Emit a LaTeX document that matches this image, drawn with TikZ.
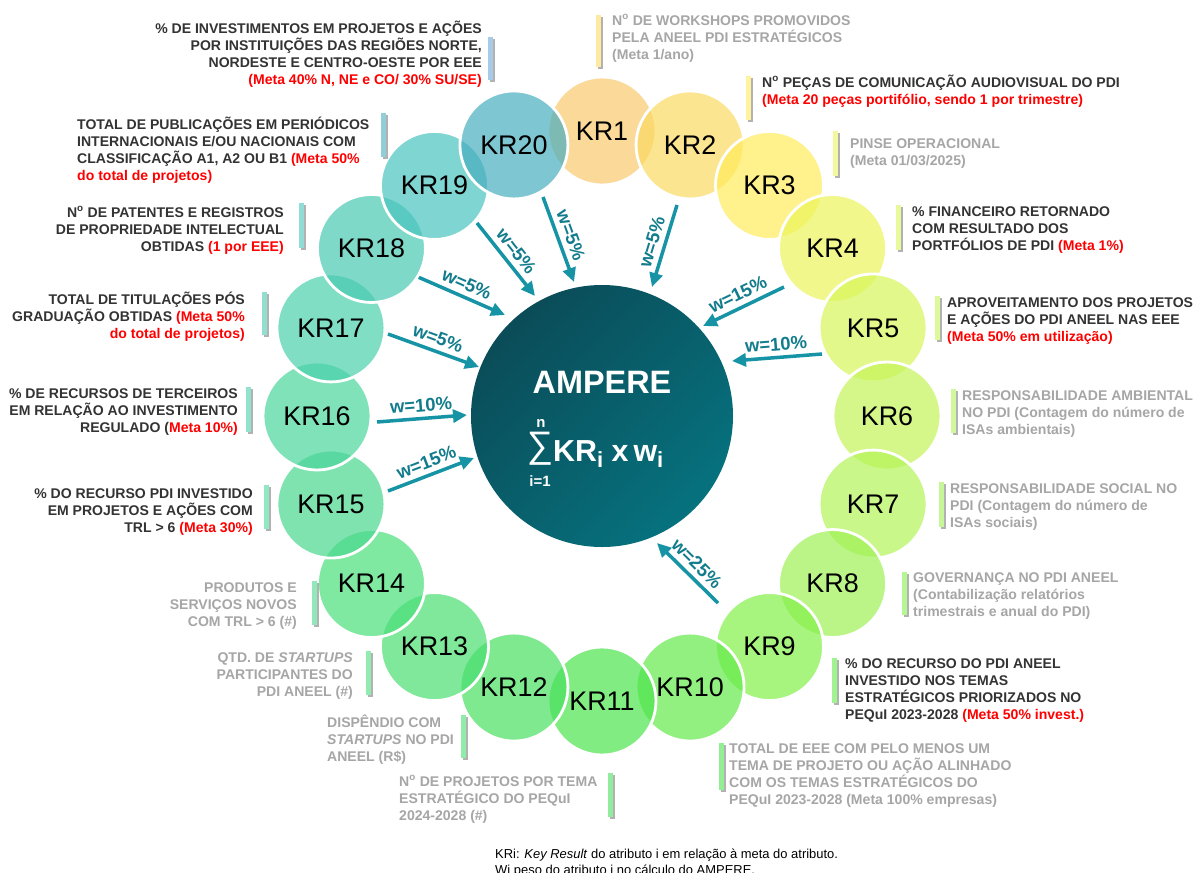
\documentclass[tikz,border=0pt]{standalone}
\usepackage{fontspec}
\setmainfont{Liberation Sans}
\usetikzlibrary{positioning,arrows.meta}

\definecolor{txtdark}{RGB}{51,51,51}
\definecolor{txtgray}{RGB}{166,166,166}
\definecolor{metared}{RGB}{255,0,0}
\definecolor{arrowteal}{RGB}{22,148,165}
\definecolor{labelteal}{RGB}{18,124,140}
\definecolor{ampdark}{RGB}{10,76,88}
\definecolor{amplight}{RGB}{6,114,126}
\definecolor{kr1}{RGB}{248,201,111}
\definecolor{kr2}{RGB}{251,218,98}
\definecolor{kr3}{RGB}{255,236,91}
\definecolor{kr4}{RGB}{236,245,91}
\definecolor{kr5}{RGB}{216,246,91}
\definecolor{kr6}{RGB}{196,245,88}
\definecolor{kr7}{RGB}{179,245,88}
\definecolor{kr8}{RGB}{159,242,85}
\definecolor{kr9}{RGB}{131,241,74}
\definecolor{kr10}{RGB}{99,234,74}
\definecolor{kr11}{RGB}{76,228,76}
\definecolor{kr12}{RGB}{74,224,96}
\definecolor{kr13}{RGB}{74,223,112}
\definecolor{kr14}{RGB}{74,223,122}
\definecolor{kr15}{RGB}{74,216,142}
\definecolor{kr16}{RGB}{74,214,156}
\definecolor{kr17}{RGB}{74,208,171}
\definecolor{kr18}{RGB}{74,201,179}
\definecolor{kr19}{RGB}{74,196,191}
\definecolor{kr20}{RGB}{72,174,191}
\definecolor{kr21}{RGB}{110,170,215}
\newcommand{\meta}[1]{\textcolor{metared}{#1}}
\newcommand{\infofont}{\bfseries\fontsize{14.1}{17.3}\selectfont}
\newcommand{\lowi}{\raisebox{-6bp}{\fontsize{22}{22}\selectfont i}}

\begin{document}
\begin{tikzpicture}[x=1bp,y=-1bp,
    kr/.style={circle,draw=white,line width=2.8bp,fill opacity=0.7,text opacity=1,
      minimum size=108bp,inner sep=0pt,font=\fontsize{27}{27}\selectfont},
    infol/.style={anchor=base west,align=left,inner sep=0pt,font=\infofont},
    infor/.style={anchor=base east,align=right,inner sep=0pt,font=\infofont},
    wt/.style={draw=arrowteal,line width=3.5bp,-{Triangle[length=14bp,width=13bp]}},
    wlab/.style={sloped,above=5bp,inner sep=0pt,text=labelteal,
      font=\bfseries\fontsize{18.5}{18.5}\selectfont}]
    \useasboundingbox (0,0) rectangle (1195,873);
    \fill[white] (0,0) rectangle (1195,873);

    \coordinate (hub) at (602,416);
    \node[circle,minimum size=262bp,inner sep=0pt,top color=ampdark,bottom color=amplight,
      shading angle=45] (ampere) at (hub) {};
    \node[white,anchor=base,inner sep=0pt,font=\bfseries\fontsize{32.5}{32.5}\selectfont]
      (amptitle) at (602,393) {AMPERE};
    \node[white,inner sep=0pt,font=\fontsize{37}{37}\selectfont] (sumsym) at (540,449) {∑};
    \node[white,inner sep=0pt,font=\bfseries\fontsize{15}{15}\selectfont] (sumtop) at (541,423) {n};
    \node[white,inner sep=0pt,font=\bfseries\fontsize{15}{15}\selectfont] (sumbot) at (540,481) {i=1};
    \node[white,anchor=base west,inner sep=0pt,font=\bfseries\fontsize{30.5}{30.5}\selectfont]
      (sumterm) at (553,461) {KR\lowi{} x\,w\lowi};

    \foreach \k/\tx/\ty/\hx/\hy/\w in {2/677/205/652/287/5, 4/784/287/703/326/15,
        5/822/354/732/361/10, 9/718/603/657/543/25, 15/388/491/474/458/15,
        16/377/422/467/415/10, 17/388/334/479/367/5, 18/418/277/505/315/5,
        19/477/223/535/296/5, 20/543/197/574/282/5} {
      \coordinate (t\k) at (\tx,\ty);
      \coordinate (h\k) at (\hx,\hy);
      \draw[wt] (t\k) -- node[wlab] {w=\w\%} (h\k);
    }

    \foreach \i in {1,...,20}
      \node[kr,fill=kr\i] (kr\i) at ([shift={({18*\i-108}:285)}]hub) {KR\i};

    \foreach \k/\bx/\ya/\yb in {1/596/15/67, 2/746/76/120, 3/833/131/176, 4/896/205/250,
        5/935/296/340, 6/951/389/433, 7/939/482/527, 8/902/572/615, 9/832/658/703,
        10/719/743/790, 11/608/773/817, 12/461/715/758, 13/366/651/695, 14/312/581/625,
        15/264/485/529, 16/246/387/432, 17/262/292/335, 18/299/203/248, 19/381/113/157,
        20/488/37/80} {
      \pgfmathtruncatemacro\nxt{\k+1}
      \fill[black!30] (\bx+1.5,\ya+2) rectangle (\bx+6.5,\yb+2);
      \fill[kr\nxt!60] (\bx,\ya) rectangle (\bx+5,\yb);
    }

    \node[infol,text=txtgray] (info1) at (612,59.6) {N\textsuperscript{o} DE WORKSHOPS PROMOVIDOS\\PELA ANEEL PDI ESTRATÉGICOS\\(Meta 1/ano)};
    \node[infol,text=txtdark] (info2) at (762,104.3) {N\textsuperscript{o} PEÇAS DE COMUNICAÇÃO AUDIOVISUAL DO PDI\\\meta{(Meta 20 peças portifólio, sendo 1 por trimestre)}};
    \node[infol,text=txtgray] (info3) at (850,165.3) {PINSE OPERACIONAL\\(Meta 01/03/2025)};
    \node[infol,text=txtdark] (info4) at (912,250.6) {\% FINANCEIRO RETORNADO\\COM RESULTADO DOS\\PORTFÓLIOS DE PDI \meta{(Meta 1\%)}};
    \node[infol,text=txtdark] (info5) at (947,341.6) {APROVEITAMENTO DOS PROJETOS\\E AÇÕES DO PDI ANEEL NAS EEE\\\meta{(Meta 50\% em utilização)}};
    \node[infol,text=txtgray] (info6) at (962,434.6) {RESPONSABILIDADE AMBIENTAL\\NO PDI (Contagem do número de\\ISAs ambientais)};
    \node[infol,text=txtgray] (info7) at (950,527.6) {RESPONSABILIDADE SOCIAL NO\\PDI (Contagem do número de\\ISAs sociais)};
    \node[infol,text=txtgray] (info8) at (913,616.6) {GOVERNANÇA NO PDI ANEEL\\(Contabilização relatórios\\trimestrais e anual do PDI)};
    \node[infol,text=txtdark] (info9) at (845,719.9) {\% DO RECURSO DO PDI ANEEL\\INVESTIDO NOS TEMAS\\ESTRATÉGICOS PRIORIZADOS NO\\PEQuI 2023-2028 \meta{(Meta 50\% invest.)}};
    \node[infol,text=txtgray] (info10) at (729,804.9) {TOTAL DE EEE COM PELO MENOS UM\\TEMA DE PROJETO OU AÇÃO ALINHADO\\COM OS TEMAS ESTRATÉGICOS DO\\PEQuI 2023-2028 (Meta 100\% empresas)};
    \node[infol,text=txtgray] (info11) at (399,820.6) {N\textsuperscript{o} DE PROJETOS POR TEMA\\ESTRATÉGICO DO PEQuI\\2024-2028 (\#)};
    \node[infol,text=txtgray] (info12) at (327,761.6) {DISPÊNDIO COM\\\textit{STARTUPS} NO PDI\\ANEEL (R\$)};
    \node[infor,text=txtgray] (info13) at (353,696.6) {QTD. DE \textit{STARTUPS}\\PARTICIPANTES DO\\PDI ANEEL (\#)};
    \node[infor,text=txtgray] (info14) at (297,626.6) {PRODUTOS E\\SERVIÇOS NOVOS\\COM TRL > 6 (\#)};
    \node[infor,text=txtdark] (info15) at (253,532.6) {\% DO RECURSO PDI INVESTIDO\\EM PROJETOS E AÇÕES COM\\TRL > 6 \meta{(Meta 30\%)}};
    \node[infor,text=txtdark] (info16) at (238,432.6) {\% DE RECURSOS DE TERCEIROS\\EM RELAÇÃO AO INVESTIMENTO\\REGULADO (\meta{Meta 10\%)}};
    \node[infor,text=txtdark] (info17) at (245,338.6) {TOTAL DE TITULAÇÕES PÓS\\GRADUAÇÃO OBTIDAS \meta{(Meta 50\%}\\\meta{do total de projetos)}};
    \node[infor,text=txtdark] (info18) at (284,251.6) {N\textsuperscript{o} DE PATENTES E REGISTROS\\DE PROPRIEDADE INTELECTUAL\\OBTIDAS \meta{(1 por EEE)}};
    \node[infol,text=txtdark] (info19) at (77,180.9) {TOTAL DE PUBLICAÇÕES EM PERIÓDICOS\\INTERNACIONAIS E/OU NACIONAIS COM\\CLASSIFICAÇÃO A1, A2 OU B1 \meta{(Meta 50\%}\\\meta{do total de projetos)}};
    \node[infor,text=txtdark] (info20) at (482,84.9) {\% DE INVESTIMENTOS EM PROJETOS E AÇÕES\\POR INSTITUIÇÕES DAS REGIÕES NORTE,\\NORDESTE E CENTRO-OESTE POR EEE\\\meta{(Meta 40\% N, NE e CO/ 30\% SU/SE)}};

    \node[anchor=base west,align=left,inner sep=0pt,font=\fontsize{13}{16}\selectfont]
      (note) at (495,874) {KRi: \textit{Key Result} do atributo i em relação à meta do atributo.\\Wi peso do atributo i no cálculo do AMPERE.};
\end{tikzpicture}
\end{document}
